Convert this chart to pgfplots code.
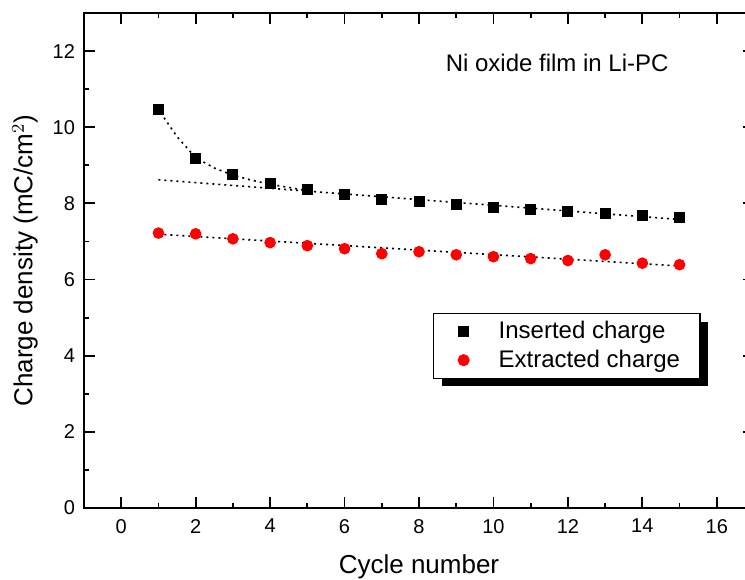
\documentclass[border=0pt]{standalone}
\usepackage{pgfplots}
\pgfplotsset{compat=1.18}
\usepackage{fontspec}
\setmainfont{Liberation Sans}
\usetikzlibrary{shadows}

\begin{document}
\begin{tikzpicture}
\begin{axis}[
  scale only axis,
  width=335pt, height=247.5pt,
  xmin=-1, xmax=17, ymin=0, ymax=13,
  xtick={0,2,...,16}, ytick={0,2,...,12},
  minor x tick num=1, minor y tick num=1,
  tick align=inside,
  major tick length=5.3pt, minor tick length=2.6pt,
  tick style={line width=0.9pt, black},
  axis line style={line width=0.9pt},
  /pgf/number format/assume math mode=true,
  tick label style={font=\fontsize{10}{12}\selectfont},
  xticklabel style={yshift=-2pt},
  yticklabel style={xshift=-1pt},
  xlabel={Cycle number},
  ylabel={Charge density (mC/cm$^{2}$)},
  label style={font=\fontsize{13}{15}\selectfont},
  xlabel style={at={(axis description cs:0.5,-0.119)}, anchor=center},
  ylabel style={at={(axis description cs:-0.088,0.5)}, anchor=center},
  legend style={at={(axis description cs:0.521,0.394)}, anchor=north west,
    draw=black, line width=0.6pt, fill=white,
    font=\fontsize{12}{14.5}\selectfont,
    drop shadow={shadow xshift=4pt, shadow yshift=-4pt, fill=black, opacity=1},
    inner xsep=3pt, inner ysep=2pt, row sep=0pt},
  legend cell align=left,
  legend image code/.code={%
    \pgfpathrectangle{\pgfpoint{0pt}{-2pt}}{\pgfpoint{27.5pt}{4pt}}%
    \pgfusepath{use as bounding box}%
    \draw[#1, only marks] plot coordinates {(12pt,0pt)};},
]
\coordinate (O) at (rel axis cs:0,0);

% fit lines
\addplot[black, line width=0.8pt, dash pattern=on 1pt off 2pt, forget plot] coordinates {
 (1.15,10.25) (1.5,9.75) (2,9.2) (2.5,8.93) (3,8.74) (3.5,8.61) (4,8.5) (4.5,8.42) (5,8.33)};
\addplot[black, line width=0.8pt, dash pattern=on 1pt off 2pt, forget plot] coordinates {
 (1,8.62) (15.1,7.57)};
\addplot[black, line width=0.8pt, dash pattern=on 1pt off 2pt, forget plot] coordinates {
 (1,7.19) (15.1,6.35)};

\addplot[only marks, mark=square*, mark size=2.5pt, black] coordinates {
 (1,10.46) (2,9.17) (3,8.75) (4,8.53) (5,8.37) (6,8.24) (7,8.11) (8,8.06)
 (9,7.97) (10,7.90) (11,7.84) (12,7.78) (13,7.73) (14,7.69) (15,7.63)};
\addlegendentry{Inserted charge}
\addplot[only marks, mark=*, mark size=2.7pt, draw=red, fill=red] coordinates {
 (1,7.22) (2,7.20) (3,7.07) (4,6.97) (5,6.89) (6,6.81) (7,6.68) (8,6.73)
 (9,6.65) (10,6.60) (11,6.55) (12,6.50) (13,6.65) (14,6.43) (15,6.39)};
\addlegendentry{Extracted charge\rule{5pt}{0pt}}

\node[anchor=base west, font=\fontsize{12}{14}\selectfont, inner sep=0pt] at (axis cs:8.71,11.46) {Ni oxide film in Li-PC};
\end{axis}
\pgfresetboundingbox
\path ([xshift=-42pt,yshift=-35.5pt]O) rectangle ++(372.5pt,289.5pt);
\end{tikzpicture}
\end{document}
